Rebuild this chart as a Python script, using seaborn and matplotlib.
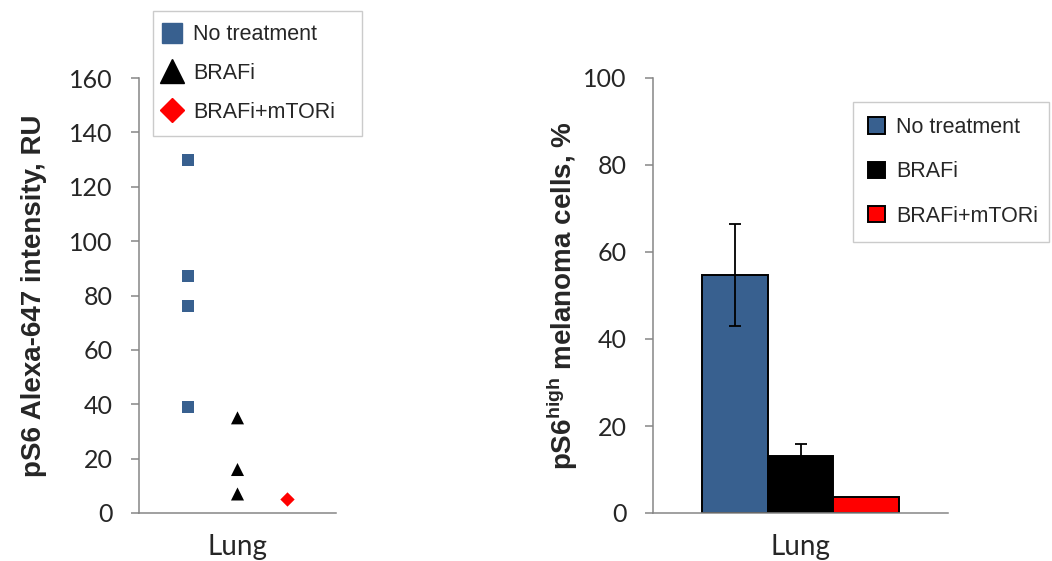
import numpy as np
import pandas as pd
import matplotlib
matplotlib.use("Agg")
import matplotlib.pyplot as plt
from matplotlib.lines import Line2D
import seaborn as sns

sns.set_theme(style="white")
plt.rcParams["font.family"] = ["Liberation Sans", "DejaVu Sans"]

# values
tissue = "Lung"
treatments = ["No treatment", "BRAFi", "BRAFi+mTORi"]
colors = ["#38608F", "#000000", "#FF0000"]
markers = ["s", "^", "D"]

# left panel: single measurements
point_treatment = ["No treatment"] * 4 + ["BRAFi"] * 3 + ["BRAFi+mTORi"]
point_intensity = [130, 87, 76, 39, 35, 16, 7, 5]

# right panel: mean with error
bar_mean = [54.8, 13.1, 3.7]
bar_err = [11.7, 2.8, 0.0]

left_ticks = [0, 20, 40, 60, 80, 100, 120, 140, 160]
right_ticks = [0, 20, 40, 60, 80, 100]

points = pd.DataFrame({"tissue": tissue, "treatment": point_treatment,
                       "intensity": point_intensity})
bars = pd.DataFrame({"tissue": tissue, "treatment": treatments, "pct": bar_mean})

SPINE = "#868686"
TICK_FONT = ["Lato", "DejaVu Sans"]

fig = plt.figure(figsize=(10.52, 5.61), dpi=100)
ax1 = fig.add_axes([139 / 1052, 48 / 561, 197 / 1052, 435 / 561])
ax2 = fig.add_axes([653 / 1052, 48 / 561, 295 / 1052, 435 / 561])

# ---- left: dot plot ----
sizes = {"s": 8.6, "^": 9.4, "D": 7.3}
for trt, col, mk in zip(treatments, colors, markers):
    sub = points[points["treatment"] == trt]
    sns.stripplot(data=sub, x="tissue", y="intensity", hue="treatment",
                  hue_order=treatments, palette=colors, dodge=True, jitter=False,
                  marker=mk, size=sizes[mk], linewidth=0, legend=False, ax=ax1)

half = 0.8 * (1 - 1 / len(treatments))
ax1.set_xlim(-half, half)
ax1.set_ylim(left_ticks[0], left_ticks[-1])
ax1.set_yticks(left_ticks)
ax1.set_xticks([-half, half], labels=["", ""])
ax1.set_xticks([0], labels=[tissue], minor=True)
ax1.tick_params(axis="x", which="minor", length=0, pad=15)
ax1.tick_params(axis="x", which="major", length=6.5, width=1.1, color=SPINE, direction="out")
ax1.set_xlabel("")
ax1.set_ylabel("pS6 Alexa-647 intensity, RU", fontsize=20, fontweight="bold")
ax1.yaxis.set_label_coords(-0.467, 0.5)

leg_handles = [Line2D([], [], linestyle="none", marker=mk, color=col,
                      markersize={"s": 14.4, "^": 17, "D": 12}[mk])
               for col, mk in zip(colors, markers)]
leg1 = ax1.legend(leg_handles, treatments, loc="upper left",
                  bbox_to_anchor=(153 / 1052, 1 - 11 / 561 - 0.01, 209 / 1052, 0.01),
                  bbox_transform=fig.transFigure, mode="expand",
                  fontsize=15.5, frameon=True, fancybox=False, handlelength=0.55,
                  handletextpad=0.7, borderpad=0.62, labelspacing=0.82,
                  borderaxespad=0)
leg1.get_frame().set_edgecolor("#BFBFBF")
leg1.get_frame().set_linewidth(1.0)

# ---- right: bar chart ----
sns.barplot(data=bars, x="tissue", y="pct", hue="treatment", hue_order=treatments,
            palette=colors, width=0.67, edgecolor="black", linewidth=1.4,
            errorbar=None, saturation=1, ax=ax2)
for cont, err in zip(ax2.containers, bar_err):
    for patch in cont.patches:
        if err > 0:
            ax2.errorbar(patch.get_x() + patch.get_width() / 2, patch.get_height(),
                         yerr=err, fmt="none", ecolor="black", elinewidth=1.3,
                         capsize=4.5, capthick=1.3)
ax2.set_xlim(-0.5, 0.5)
ax2.set_ylim(right_ticks[0], right_ticks[-1])
ax2.set_yticks(right_ticks)
ax2.tick_params(axis="x", length=0, pad=15)
ax2.set_xlabel("")
ax2.set_ylabel(r"pS6$^{\mathregular{high}}$ melanoma cells, %", fontsize=20,
               fontweight="bold")
ax2.yaxis.set_label_coords(-0.247, 0.5)

h, l = ax2.get_legend_handles_labels()
leg2 = ax2.legend(h, l, loc="upper left",
                  bbox_to_anchor=(853 / 1052, 1 - 102 / 561 - 0.01, 196 / 1052, 0.01),
                  bbox_transform=fig.transFigure, mode="expand",
                  fontsize=15.5, frameon=True, fancybox=False, handlelength=0.8,
                  handleheight=0.8, handletextpad=0.5, borderpad=0.7,
                  labelspacing=1.08, borderaxespad=0)
leg2.get_frame().set_edgecolor("#BFBFBF")
leg2.get_frame().set_linewidth(1.0)

for ax in (ax1, ax2):
    sns.despine(ax=ax)
    for side in ("left", "bottom"):
        ax.spines[side].set_color(SPINE)
        ax.spines[side].set_linewidth(1.1)
    ax.tick_params(axis="y", length=6, width=1.1, color=SPINE, direction="out",
                   pad=13, labelsize=18, left=True)
    for lab in ax.get_yticklabels() + ax.get_xticklabels(minor=True) + ax.get_xticklabels():
        lab.set_fontfamily(TICK_FONT)
    for lab in ax.get_xticklabels(minor=True) + ax.get_xticklabels():
        lab.set_fontsize(20)
    ax.set_facecolor("white")

fig.savefig("out.png", dpi=100, facecolor="white")
